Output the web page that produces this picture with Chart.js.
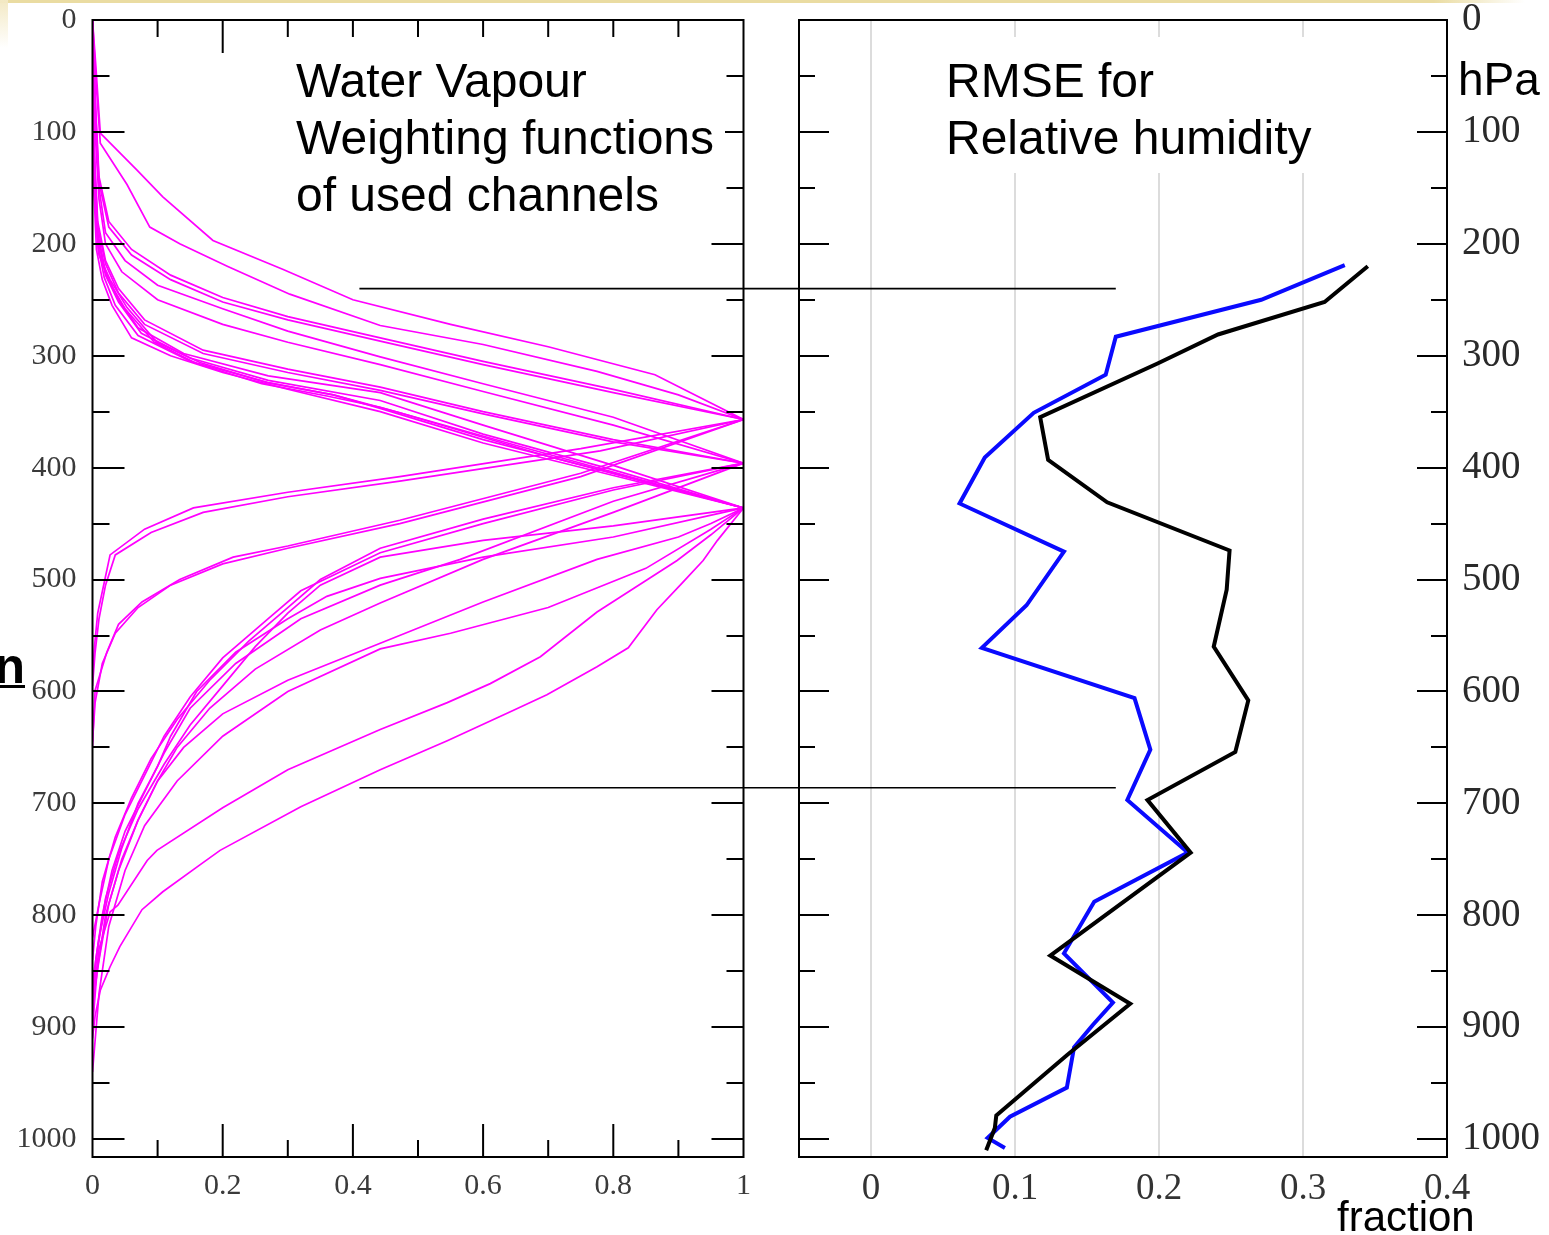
<!DOCTYPE html>
<html>
<head>
<meta charset="utf-8">
<script src="https://cdn.jsdelivr.net/npm/chart.js@4.4.1/dist/chart.umd.min.js"></script>
<style>
  html, body { margin: 0; padding: 0; background: #fff; }
  body { width: 1549px; height: 1235px; position: relative; overflow: hidden; }
  canvas { position: absolute; top: 0; }
  #wf { left: 0; }
  #rmse { left: 771px; }
  .topband { position: absolute; left: 0; top: 0; width: 1525px; height: 3px;
             background: linear-gradient(to right, #eadca2 0%, #eadca2 94%, rgba(234,220,162,0) 100%); }
  .corner { position: absolute; left: 0; top: 0; width: 8px; height: 48px;
            background: linear-gradient(to bottom, #f3e9c4, rgba(243,233,196,0)); }
</style>
</head>
<body>
<div class="topband"></div>
<div class="corner"></div>
<canvas id="wf" width="771" height="1235"></canvas>
<canvas id="rmse" width="778" height="1235"></canvas>
<script>
// ---- Water vapour weighting functions: [weight, pressure hPa] per channel ----
const ch1  = [[0,0],[0.005,40],[0.012,101],[0.068,134],[0.108,158],[0.185,197],[0.293,223],[0.4,250],[0.55,272],[0.7,292],[0.864,317],[1,357],[0.75,383],[0.472,408],[0.3,422],[0.155,436],[0.08,455],[0.027,478],[0.019,500],[0.008,530],[0.003,560],[0,585]];
const ch2  = [[0,0],[0.006,60],[0.012,110],[0.053,147],[0.088,185],[0.134,200],[0.207,220],[0.303,245],[0.442,273],[0.6,290],[0.775,314],[0.9,335],[1,357],[0.78,385],[0.472,412],[0.3,426],[0.17,440],[0.09,458],[0.035,478],[0.02,505],[0.01,535],[0.004,565],[0,595]];
const ch3  = [[0,0],[0.005,80],[0.01,140],[0.025,180],[0.06,205],[0.12,228],[0.2,248],[0.3,265],[0.442,284],[0.6,305],[0.8,330],[1,357],[0.75,405],[0.472,447],[0.3,470],[0.216,480],[0.134,500],[0.076,520],[0.04,540],[0.022,565],[0.004,599],[0.001,634],[0,650]];
const ch4  = [[0,0],[0.005,85],[0.01,145],[0.025,185],[0.06,210],[0.12,232],[0.2,252],[0.3,268],[0.442,287],[0.6,308],[0.8,333],[1,357],[0.75,408],[0.472,450],[0.3,472],[0.2,486],[0.12,505],[0.07,525],[0.035,548],[0.015,575],[0.004,610],[0,645]];
const ch5  = [[0,0],[0.005,90],[0.01,150],[0.02,190],[0.05,215],[0.1,237],[0.2,258],[0.3,278],[0.442,301],[0.6,325],[0.8,355],[1,396],[0.8,418],[0.6,446],[0.442,472],[0.35,500],[0.3,525],[0.24,555],[0.18,590],[0.13,625],[0.09,660],[0.06,695],[0.035,730],[0.015,770],[0.005,810],[0,840]];
const ch6  = [[0,0],[0.004,100],[0.01,160],[0.02,200],[0.045,225],[0.1,250],[0.2,272],[0.3,288],[0.442,308],[0.6,332],[0.8,362],[1,396],[0.8,430],[0.565,482],[0.442,505],[0.32,535],[0.22,575],[0.15,615],[0.11,655],[0.08,690],[0.05,725],[0.03,760],[0.015,800],[0.005,840],[0,880]];
const ch7  = [[0,0],[0.003,120],[0.008,180],[0.02,215],[0.04,240],[0.08,268],[0.17,295],[0.3,312],[0.442,328],[0.6,350],[0.8,375],[1,396],[0.8,440],[0.6,482],[0.442,521],[0.35,545],[0.25,580],[0.18,615],[0.13,650],[0.1,680],[0.07,715],[0.04,760],[0.02,800],[0.007,850],[0,900]];
const ch8  = [[0,0],[0.003,125],[0.008,185],[0.02,218],[0.04,244],[0.08,272],[0.17,298],[0.3,315],[0.442,331],[0.6,352],[0.8,377],[1,396],[0.8,420],[0.6,450],[0.442,476],[0.32,510],[0.27,535],[0.2,570],[0.15,605],[0.11,640],[0.08,675],[0.05,710],[0.025,750],[0.01,790],[0,820]];
const ch9  = [[0,0],[0.003,130],[0.008,190],[0.02,225],[0.04,250],[0.07,275],[0.14,298],[0.27,318],[0.442,333],[0.6,362],[0.8,398],[1,436],[0.8,452],[0.6,465],[0.442,480],[0.35,505],[0.3,530],[0.25,560],[0.2,595],[0.15,630],[0.11,665],[0.07,705],[0.04,745],[0.02,785],[0.008,830],[0,870]];
const ch10 = [[0,0],[0.003,140],[0.008,200],[0.018,230],[0.035,255],[0.07,282],[0.15,305],[0.27,324],[0.37,335],[0.442,347],[0.6,375],[0.8,405],[1,436],[0.8,462],[0.6,480],[0.442,499],[0.36,515],[0.3,535],[0.22,565],[0.16,600],[0.12,640],[0.1,667],[0.07,700],[0.045,740],[0.025,780],[0.01,820],[0,860]];
const ch11 = [[0,0],[0.002,150],[0.006,205],[0.015,232],[0.03,255],[0.06,284],[0.12,300],[0.2,315],[0.3,330],[0.442,350],[0.6,378],[0.8,407],[1,436],[0.95,450],[0.9,462],[0.775,482],[0.6,520],[0.442,557],[0.3,590],[0.2,620],[0.14,650],[0.1,680],[0.07,715],[0.045,750],[0.025,790],[0.01,840],[0,880]];
const ch12 = [[0,0],[0.002,150],[0.01,210],[0.027,232],[0.053,257],[0.099,288],[0.165,306],[0.268,324],[0.37,335],[0.472,351],[0.7,390],[1,436],[0.95,460],[0.898,483],[0.775,529],[0.688,569],[0.611,593],[0.545,610],[0.442,634],[0.3,670],[0.2,704],[0.099,742],[0.084,751],[0.039,791],[0.027,797],[0.01,830],[0.004,860],[0,900]];
const ch13 = [[0,0],[0.002,145],[0.009,207],[0.024,232],[0.05,258],[0.095,288],[0.16,307],[0.26,325],[0.36,336],[0.442,346],[0.65,380],[1,436],[0.96,465],[0.938,483],[0.906,503],[0.867,527],[0.823,561],[0.775,578],[0.698,603],[0.646,617],[0.545,644],[0.442,670],[0.32,703],[0.196,742],[0.165,755],[0.108,779],[0.076,795],[0.042,828],[0.027,846],[0.012,867],[0.004,890],[0,910]];
const ch14 = [[0,0],[0.003,135],[0.008,195],[0.02,228],[0.04,252],[0.075,280],[0.15,302],[0.27,322],[0.442,340],[0.6,370],[0.8,402],[1,436],[0.95,455],[0.85,490],[0.7,525],[0.55,548],[0.442,562],[0.3,600],[0.2,640],[0.13,680],[0.08,720],[0.05,760],[0.025,810],[0.01,870],[0,940]];
const channels = [ch1, ch2, ch3, ch4, ch5, ch6, ch7, ch8, ch9, ch10, ch11, ch12, ch13, ch14];

// ---- RMSE of relative humidity (fraction) against pressure ----
const bluePressure = [219, 250, 283, 317, 351, 391, 432, 475, 523, 561, 606, 652, 697, 744, 788, 834, 878, 898, 918, 954, 980, 999, 1008];
const blueRmse     = [0.329, 0.271, 0.170, 0.163, 0.113, 0.079, 0.0615, 0.134, 0.108, 0.077, 0.183, 0.194, 0.178, 0.220, 0.155, 0.134, 0.168, 0.154, 0.141, 0.136, 0.0965, 0.081, 0.093];
const blackPressure = [220, 252, 281, 307, 355, 393, 431, 474, 509, 560, 608, 654, 697, 744, 836, 879, 925, 979, 990, 1010];
const blackRmse     = [0.345, 0.315, 0.241, 0.199, 0.1175, 0.123, 0.164, 0.249, 0.247, 0.238, 0.262, 0.253, 0.192, 0.222, 0.1245, 0.180, 0.136, 0.087, 0.086, 0.080];

// ---- axis ticks and marked levels ----
const pressureTicks = [0, 100, 200, 300, 400, 500, 600, 700, 800, 900, 1000];
const weightTicks = [0, 0.2, 0.4, 0.6, 0.8, 1];
const rmseTicks = [0, 0.1, 0.2, 0.3, 0.4];
const markedLevels = [240, 686];       // pressure levels joined across both panels
const markedWeightStart = 0.41;        // left end of the level lines (weight axis)
const markedRmseEnd = 0.17;            // right end of the level lines (RMSE axis)

const P_MAX = 1016;
const serif = '"Liberation Serif", "Times New Roman", serif';
const sans = '"Liberation Sans", Arial, sans-serif';

function pairsToPoints(pairs) { return pairs.map(([x, p]) => ({ x: x, y: p })); }
function zip(xs, ps) { return xs.map((x, i) => ({ x: x, y: ps[i] })); }

// fixed axis sizes, no label overhang padding (plot area set by layout padding)
function fixHeight(h) { return s => { s.height = h; s.paddingLeft = 0; s.paddingRight = 0; }; }
function fixWidth(w) { return s => { s.width = w; s.paddingTop = 0; s.paddingBottom = 0; }; }

// inward tick marks, frame, level lines and captions
function decor(opts) {
  return {
    id: 'decor',
    afterDatasetsDraw(chart) {
      const ctx = chart.ctx;
      const a = chart.chartArea;
      const xs = chart.scales.x, ys = chart.scales.y;
      ctx.save();
      ctx.strokeStyle = '#000';
      ctx.lineWidth = 2;
      ctx.lineCap = 'butt';
      // pressure ticks on both vertical edges
      for (let p = 50; p <= 1000; p += 50) {
        const y = Math.round(ys.getPixelForValue(p));
        const len = p % 100 === 0 ? opts.yMajor : opts.yMinor;
        ctx.beginPath();
        ctx.moveTo(a.left, y); ctx.lineTo(a.left + len, y);
        ctx.moveTo(a.right, y); ctx.lineTo(a.right - len, y);
        ctx.stroke();
      }
      // weight ticks on top and bottom
      if (opts.xTicks) {
        for (let i = 1; i < 10; i++) {
          const x = xs.getPixelForValue(i / 10);
          const len = i % 2 === 0 ? opts.xMajor : opts.xMinor;
          ctx.beginPath();
          ctx.moveTo(x, a.top); ctx.lineTo(x, a.top + len);
          ctx.moveTo(x, a.bottom); ctx.lineTo(x, a.bottom - len);
          ctx.stroke();
        }
      }
      ctx.strokeRect(a.left, a.top, a.right - a.left, a.bottom - a.top);
      // level lines
      ctx.lineWidth = 1.6;
      markedLevels.forEach(p => {
        const y = ys.getPixelForValue(p);
        const x0 = opts.levelFrom === 'scale' ? xs.getPixelForValue(markedWeightStart) : 0;
        const x1 = opts.levelTo === 'scale' ? xs.getPixelForValue(markedRmseEnd) : chart.width;
        ctx.beginPath(); ctx.moveTo(x0, y); ctx.lineTo(x1, y); ctx.stroke();
      });
      // caption boxes and text
      (opts.boxes || []).forEach(b => { ctx.fillStyle = '#fff'; ctx.fillRect(b[0], b[1], b[2], b[3]); });
      (opts.texts || []).forEach(t => {
        ctx.fillStyle = '#000';
        ctx.font = t.font;
        ctx.textAlign = t.align || 'left';
        ctx.textBaseline = 'alphabetic';
        ctx.fillText(t.text, t.x, t.y);
        if (t.underline) ctx.fillRect(t.underline[0], t.underline[1], t.underline[2], t.underline[3]);
      });
      ctx.restore();
    }
  };
}

const tickFontLeft = { family: serif, size: 30 };

new Chart(document.getElementById('wf'), {
  type: 'scatter',
  data: {
    datasets: channels.map(c => ({
      data: pairsToPoints(c), showLine: true, borderColor: '#ff00ff', borderWidth: 1.7,
      pointRadius: 0, tension: 0, fill: false
    }))
  },
  options: {
    responsive: false, animation: false, devicePixelRatio: 1,
    layout: { autoPadding: false, padding: { top: 20, right: 27.5, left: 0, bottom: 0 } },
    plugins: { legend: { display: false }, tooltip: { enabled: false } },
    scales: {
      x: {
        type: 'linear', position: 'bottom', min: 0, max: 1,
        grid: { display: false, drawTicks: false }, border: { display: false },
        afterBuildTicks: s => { s.ticks = weightTicks.map(v => ({ value: v })); },
        afterFit: fixHeight(78),
        ticks: { autoSkip: false, maxRotation: 0, padding: 11, color: '#3a3a3a', font: tickFontLeft, callback: v => String(v) }
      },
      y: {
        type: 'linear', position: 'left', reverse: true, min: 0, max: P_MAX,
        grid: { display: false, drawTicks: false }, border: { display: false },
        afterBuildTicks: s => { s.ticks = pressureTicks.map(v => ({ value: v })); },
        afterFit: fixWidth(92.5),
        ticks: { autoSkip: false, padding: 16, color: '#3a3a3a', font: tickFontLeft, callback: v => String(v) }
      }
    }
  },
  plugins: [decor({
    yMajor: 32, yMinor: 17, xTicks: true, xMajor: 33, xMinor: 17,
    levelFrom: 'scale', levelTo: 'edge',
    boxes: [[288, 37, 437, 192]],
    texts: [
      { text: 'Water Vapour', x: 296, y: 97, font: '48px ' + sans },
      { text: 'Weighting functions', x: 296, y: 154, font: '48px ' + sans },
      { text: 'of used channels', x: 296, y: 211, font: '48px ' + sans },
      { text: 'n', x: 25, y: 683, align: 'right', font: 'bold 50px ' + sans, underline: [0, 685, 25, 3] }
    ]
  })]
});

new Chart(document.getElementById('rmse'), {
  type: 'scatter',
  data: {
    datasets: [
      { data: zip(blackRmse, blackPressure), showLine: true, borderColor: '#000', borderWidth: 4, pointRadius: 0, tension: 0 },
      { data: zip(blueRmse, bluePressure), showLine: true, borderColor: '#0a0aff', borderWidth: 4, pointRadius: 0, tension: 0 }
    ]
  },
  options: {
    responsive: false, animation: false, devicePixelRatio: 1,
    layout: { autoPadding: false, padding: { top: 20, right: 0, left: 28, bottom: 0 } },
    plugins: { legend: { display: false }, tooltip: { enabled: false } },
    scales: {
      x: {
        type: 'linear', position: 'bottom', min: -0.05, max: 0.4,
        grid: { display: true, drawOnChartArea: true, drawTicks: false, color: '#dcdcdc', lineWidth: 2 },
        border: { display: false },
        afterBuildTicks: s => { s.ticks = rmseTicks.map(v => ({ value: v })); },
        afterFit: fixHeight(78),
        ticks: { autoSkip: false, maxRotation: 0, padding: 10, color: '#333', font: { family: serif, size: 37 }, callback: v => String(v) }
      },
      y: {
        type: 'linear', position: 'right', reverse: true, min: 0, max: P_MAX,
        grid: { display: false, drawTicks: false }, border: { display: false },
        afterBuildTicks: s => { s.ticks = pressureTicks.map(v => ({ value: v })); },
        afterFit: fixWidth(102),
        ticks: { autoSkip: false, padding: 15, color: '#2a2a2a', font: { family: serif, size: 39 }, callback: v => String(v) }
      }
    }
  },
  plugins: [decor({
    yMajor: 30, yMinor: 16, xTicks: false,
    levelFrom: 'edge', levelTo: 'scale',
    boxes: [[164, 37, 386, 136]],
    texts: [
      { text: 'RMSE for', x: 175, y: 97, font: '48px ' + sans },
      { text: 'Relative humidity', x: 175, y: 154, font: '48px ' + sans },
      { text: 'hPa', x: 687, y: 95, font: '46px ' + sans },
      { text: 'fraction', x: 566, y: 1231, font: '42px ' + sans }
    ]
  })]
});
</script>
</body>
</html>
